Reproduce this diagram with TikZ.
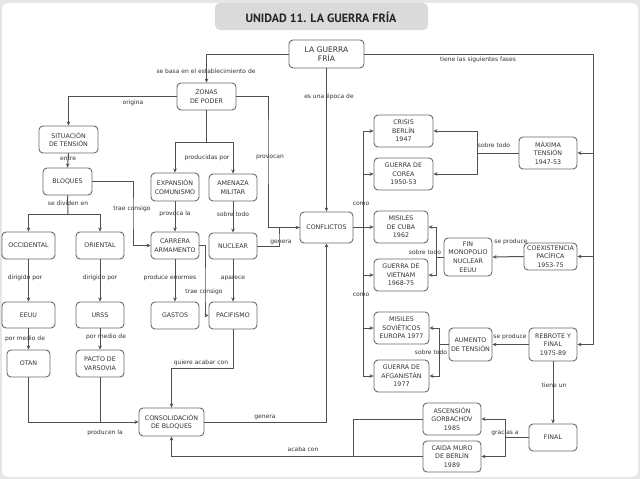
\documentclass[tikz,border=0pt]{standalone}
\usepackage{fontspec}
\setmainfont{DejaVu Sans}
\newfontfamily\titlefont{PT Sans}
\usetikzlibrary{arrows.meta}
\definecolor{framegray}{HTML}{E6E6E6}
\definecolor{titlegray}{HTML}{DADADA}
\definecolor{boxline}{HTML}{6A6A6A}
\definecolor{conline}{HTML}{505050}
\definecolor{txt}{HTML}{333333}
\tikzset{
  box/.style={draw=boxline, line width=0.9pt, rounded corners=4pt, fill=white,
    align=center, inner sep=0pt, text=txt, font=\fontsize{6.3}{8.6}\selectfont},
  lbl/.style={text=txt, inner sep=0pt, font=\fontsize{6}{7}\selectfont},
  con/.style={draw=conline, line width=1pt},
  arr/.style={con, -{Stealth[length=4pt,width=3.6pt]}}
}
\begin{document}
\begin{tikzpicture}[x=1pt,y=-1pt]
\useasboundingbox (0,0) rectangle (640,479);
\fill[framegray] (0,0) rectangle (640,479);
\fill[white, rounded corners=6pt] (2,3) rectangle (638,477);
\fill[titlegray, rounded corners=5pt] (215,3) rectangle (428,30);
\node[text=black!85, font=\titlefont\bfseries\fontsize{12}{14}\selectfont] (title) at (321,17) {UNIDAD 11. LA GUERRA FRÍA};

% nodes
\node[box, minimum width=75, minimum height=28, font=\fontsize{7.6}{9.6}\selectfont] (lgf) at (326.5,54) {LA GUERRA\\FRÍA};
\node[box, minimum width=59, minimum height=27] (zonas) at (206.5,96.5) {ZONAS\\DE PODER};
\node[box, minimum width=59, minimum height=27] (sit) at (68.5,139.5) {SITUACIÓN\\DE TENSIÓN};
\node[box, minimum width=49, minimum height=27] (bloq) at (67.5,181.5) {BLOQUES};
\node[box, minimum width=48, minimum height=28] (exp) at (175,187) {EXPANSIÓN\\COMUNISMO};
\node[box, minimum width=48, minimum height=27] (amen) at (233,187.5) {AMENAZA\\MILITAR};
\node[box, minimum width=53, minimum height=27] (occ) at (28.5,245.5) {OCCIDENTAL};
\node[box, minimum width=48, minimum height=27] (ori) at (100,245.5) {ORIENTAL};
\node[box, minimum width=48, minimum height=27] (carr) at (175,245.5) {CARRERA\\ARMAMENTO};
\node[box, minimum width=48, minimum height=26] (nuc) at (233,246) {NUCLEAR};
\node[box, minimum width=53, minimum height=31] (conf) at (326.5,227.5) {CONFLICTOS};
\node[box, minimum width=53, minimum height=26] (eeuu) at (28.5,315) {EEUU};
\node[box, minimum width=48, minimum height=26] (urss) at (100,315) {URSS};
\node[box, minimum width=48, minimum height=27] (gastos) at (175,315.5) {GASTOS};
\node[box, minimum width=48, minimum height=27] (pac) at (233,315.5) {PACIFISMO};
\node[box, minimum width=43, minimum height=27] (otan) at (28.5,363.5) {OTAN};
\node[box, minimum width=48, minimum height=27] (pacto) at (100,363.5) {PACTO DE\\VARSOVIA};
\node[box, minimum width=65, minimum height=28] (cons) at (171.5,422) {CONSOLIDACIÓN\\DE BLOQUES};
\node[box, minimum width=59, minimum height=32] (crisis) at (403.5,131) {CRISIS\\BERLÍN\\1947};
\node[box, minimum width=59, minimum height=32] (corea) at (403.5,174) {GUERRA DE\\COREA\\1950-53};
\node[box, minimum width=58, minimum height=32] (max) at (548,153) {MÁXIMA\\TENSIÓN\\1947-53};
\node[box, minimum width=54, minimum height=32] (cuba) at (401,227) {MISILES\\DE CUBA\\1962};
\node[box, minimum width=54, minimum height=32] (viet) at (401,275) {GUERRA DE\\VIETNAM\\1968-75};
\node[box, minimum width=48, minimum height=38] (fin) at (468,257) {FIN\\MONOPOLIO\\NUCLEAR\\EEUU};
\node[box, minimum width=53, minimum height=27] (coex) at (550.5,256.5) {COEXISTENCIA\\PACÍFICA\\1953-75};
\node[box, minimum width=55, minimum height=32] (sov) at (401.5,328) {MISILES\\SOVIÉTICOS\\EUROPA 1977};
\node[box, minimum width=55, minimum height=32] (afg) at (401.5,376) {GUERRA DE\\AFGANISTÁN\\1977};
\node[box, minimum width=43, minimum height=33] (aum) at (470.5,344.5) {AUMENTO\\DE TENSIÓN};
\node[box, minimum width=48, minimum height=33] (reb) at (553,344.5) {REBROTE Y\\FINAL\\1975-89};
\node[box, minimum width=48, minimum height=27] (final) at (553,437.5) {FINAL};
\node[box, minimum width=58, minimum height=32] (asc) at (452,419) {ASCENSIÓN\\GORBACHOV\\1985};
\node[box, minimum width=58, minimum height=31] (caida) at (452,456.5) {CAIDA MURO\\DE BERLÍN\\1989};

% junction coordinates
\coordinate (fx) at (593,54);
\coordinate (zb) at (206.5,142);
\coordinate (pv) at (268,142);
\coordinate (bb) at (68,214);
\coordinate (tc) at (133,214);
\coordinate (tp) at (205,290);
\coordinate (gn) at (279,240);
\coordinate (qa) at (233,368);
\coordinate (cx) at (363,227.5);
\coordinate (mx) at (477,153);
\coordinate (fx2) at (436,257);
\coordinate (ax) at (439,344.5);
\coordinate (gx) at (505,437.5);
\coordinate (ac) at (353,419);

% connectors
\draw[arr] (lgf.west) -| (zonas.north);
\draw[arr] (lgf.south) -- (conf.north);
\draw[con] (lgf.east) -- (fx) -- (fx |- reb.east);
\draw[arr] (fx |- max.east) -- (max.east);
\draw[arr] (fx |- coex.east) -- (coex.east);
\draw[arr] (fx |- reb.east) -- (reb.east);

\draw[arr] (zonas.west) -| (sit.north);
\draw[con] (zonas.south) -- (zb);
\draw[arr] (zb) -| (exp.north);
\draw[arr] (zb) -| (amen.north);
\draw[arr] (zonas.east) -| (pv) |- (conf.west);

\draw[arr] (sit.south) -- (bloq.north);
\draw[con] (bloq.south) -- (bb);
\draw[arr] (bb) -| (occ.north);
\draw[arr] (bb) -| (ori.north);
\draw[arr] (bloq.east) -| (tc) |- (carr.west);

\draw[arr] (exp.south) -- (carr.north);
\draw[arr] (amen.south) -- (nuc.north);
\draw[arr] (occ.south) -- (eeuu.north);
\draw[arr] (ori.south) -- (urss.north);
\draw[arr] (carr.south) -- (gastos.north);
\draw[arr] (carr.east) -| (tp) |- (pac.west);
\draw[arr] (nuc.south) -- (pac.north);
\draw[con] (nuc.east) -| (gn) |- (conf.west);

\draw[arr] (eeuu.south) -- (otan.north);
\draw[arr] (urss.south) -- (pacto.north);
\draw[arr] (otan.south) |- (cons.west);
\draw[con] (pacto.south) -- (pacto.south |- cons.west);
\draw[arr] (pac.south) -- (qa) -| (cons.north);
\draw[arr] (cons.east) -| (conf.south);

\draw[con] (conf.east) -- (cx);
\draw[con] (cx |- crisis.west) -- (cx |- afg.west);
\draw[arr] (cx |- crisis.west) -- (crisis.west);
\draw[arr] (cx |- corea.west) -- (corea.west);
\draw[arr] (cx |- cuba.west) -- (cuba.west);
\draw[arr] (cx |- viet.west) -- (viet.west);
\draw[arr] (cx |- sov.west) -- (sov.west);
\draw[arr] (cx |- afg.west) -- (afg.west);

\draw[con] (max.west) -- (mx);
\draw[arr] (mx) |- (crisis.east);
\draw[arr] (mx) |- (corea.east);

\draw[arr] (coex.west) -- (fin.east);
\draw[con] (fin.west) -- (fx2);
\draw[arr] (fx2) |- (cuba.east);
\draw[arr] (fx2) |- (viet.east);

\draw[arr] (reb.west) -- (aum.east);
\draw[con] (aum.west) -- (ax);
\draw[arr] (ax) |- (sov.east);
\draw[arr] (ax) |- (afg.east);

\draw[arr] (reb.south) -- (final.north);
\draw[con] (final.west) -- (gx);
\draw[arr] (gx) |- (asc.east);
\draw[arr] (gx) |- (caida.east);

\draw[con] (asc.west) -- (ac) -- (ac |- caida.west);
\draw[arr] (caida.west) -| (cons.south);

% labels
\node[lbl] (l1) at (206,71) {se basa en el establecimiento de};
\node[lbl] (l2) at (329,97) {es una época de};
\node[lbl] (l3) at (478,60) {tiene las siguientes fases};
\node[lbl] (l4) at (133,103) {origina};
\node[lbl] (l5) at (207,158) {producidas por};
\node[lbl] (l6) at (270,157) {provocan};
\node[lbl] (l7) at (68,158) {entre};
\node[lbl] (l8) at (68,203) {se dividen en};
\node[lbl] (l9) at (132,209) {trae consigo};
\node[lbl] (l10) at (175,214) {provoca la};
\node[lbl] (l11) at (233,214) {sobre todo};
\node[lbl] (l12) at (25,278) {dirigido por};
\node[lbl] (l13) at (100,278) {dirigido por};
\node[lbl] (l14) at (170,278) {produce enormes};
\node[lbl] (l15) at (233,278) {aparece};
\node[lbl] (l16) at (204,292) {trae consigo};
\node[lbl] (l17) at (281,242) {genera};
\node[lbl] (l18) at (25,339) {por medio de};
\node[lbl] (l19) at (106,337) {por medio de};
\node[lbl] (l20) at (201,363) {quiere acabar con};
\node[lbl] (l21) at (105,433) {producen la};
\node[lbl] (l22) at (265,417) {genera};
\node[lbl] (l23) at (361,204) {como};
\node[lbl] (l24) at (361,295) {como};
\node[lbl] (l25) at (494,145) {sobre todo};
\node[lbl] (l26) at (511,242) {se produce};
\node[lbl] (l27) at (425,252) {sobre todo};
\node[lbl] (l28) at (510,337) {se produce};
\node[lbl] (l29) at (431,352) {sobre todo};
\node[lbl] (l30) at (554,385) {tiene un};
\node[lbl] (l31) at (505,433) {gracias a};
\node[lbl] (l32) at (303,449) {acaba con};
\end{tikzpicture}
\end{document}
